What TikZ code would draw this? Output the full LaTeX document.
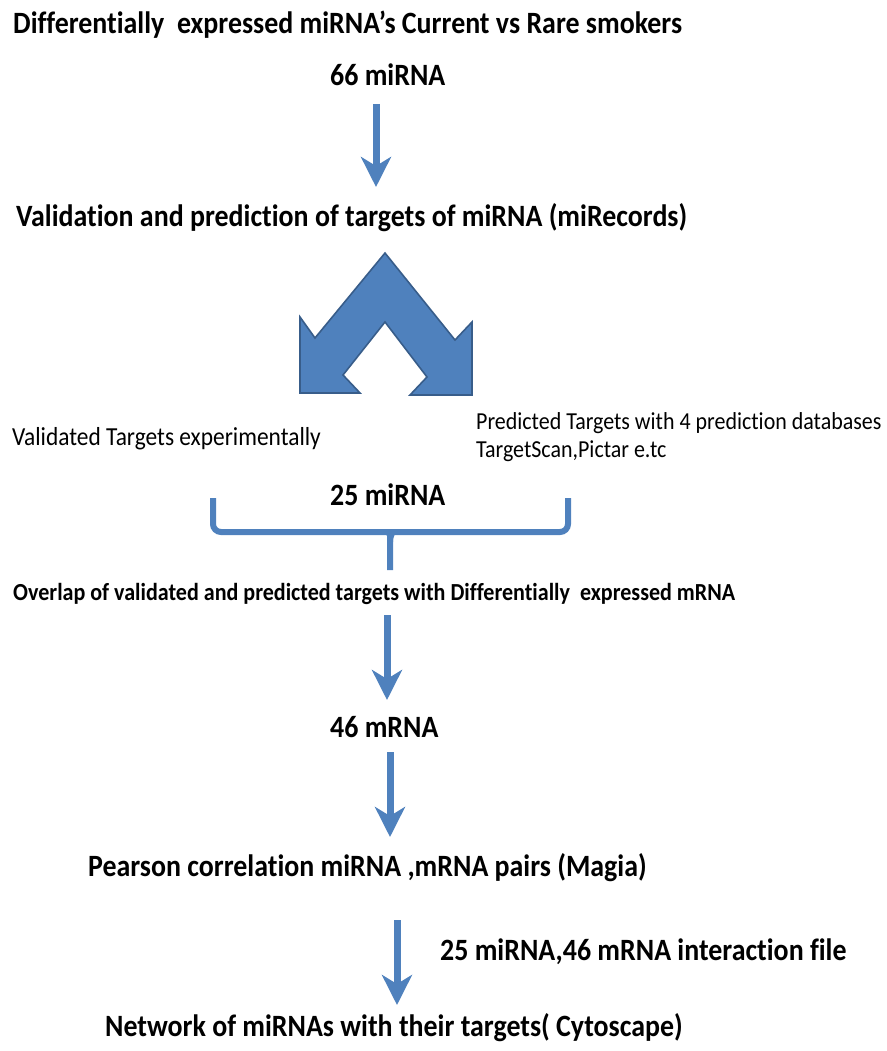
\documentclass[tikz,border=0pt]{standalone}
\usepackage{fontspec}
\setmainfont{Carlito}[FakeStretch=0.9, Ligatures={NoCommon}]
\usetikzlibrary{arrows.meta}
\definecolor{flowblue}{HTML}{4F81BD}
\definecolor{flowedge}{HTML}{385D8A}
\tikzset{
  x=1pt, y=-1pt,
  headtxt/.style={inner sep=0pt, anchor=base west, font=\bfseries\fontsize{31}{36}\selectfont},
  subtxt/.style={inner sep=0pt, anchor=base west, font=\bfseries\fontsize{24.5}{29}\selectfont},
  plaintxt/.style={inner sep=0pt, anchor=base west, font=\fontsize{24.4}{29}\selectfont},
  flowarrow/.style={draw=flowblue, line width=7pt,
    -{Stealth[length=30pt, width=30pt, inset=9pt, fill=flowblue]}},
  bracepath/.style={draw=flowblue, line width=6pt, rounded corners=8pt, line cap=butt},
}
\begin{document}
\begin{tikzpicture}
\useasboundingbox (0,0) rectangle (886,1051);

% texts
\node[headtxt] (title) at (13,34) {Differentially\ \ expressed miRNA’s Current\ vs Rare smokers};
\node[headtxt] (n66) at (330,86) {66 miRNA};
\node[headtxt] (valid) at (16,226) {Validation\ and prediction\ of targets of miRNA (miRecords)};
\node[plaintxt, font=\fontsize{26}{30}\selectfont] (exp) at (12,445) {Validated Targets experimentally};
\node[plaintxt] (pred1) at (476,429) {Predicted Targets with 4 prediction databases};
\node[plaintxt] (pred2) at (476,457) {TargetScan,Pictar e.tc};
\node[headtxt] (n25) at (330,505) {25 miRNA};
\node[subtxt] (overlap) at (13,600) {Overlap of validated and predicted targets with Differentially\ \ expressed mRNA};
\node[headtxt] (n46) at (330,737) {46 mRNA};
\node[headtxt] (pearson) at (88,876) {Pearson correlation\ miRNA ,mRNA pairs (Magia)};
\node[headtxt] (inter) at (440,960) {25 miRNA,46\ mRNA interaction\ file};
\node[headtxt] (network) at (105,1036) {Network of miRNAs with their targets( Cytoscape)};

% arrow end points
\coordinate (a1s) at (376,104);
\coordinate (a1e) at (376,187);
\coordinate (a2s) at (387,615);
\coordinate (a2e) at (387,700);
\coordinate (a3s) at (390,752);
\coordinate (a3e) at (390,837);
\coordinate (a4s) at (397,920);
\coordinate (a4e) at (397,1005);

\draw[flowarrow] (a1s) -- (a1e);
\draw[flowarrow] (a2s) -- (a2e);
\draw[flowarrow] (a3s) -- (a3e);
\draw[flowarrow] (a4s) -- (a4e);

% split chevron
\draw[fill=flowblue, draw=flowedge, line width=1.6pt, line join=miter]
  (385,253) -- (455,340) -- (472,322) -- (472,395) -- (410,395)
  -- (427,377) -- (385,322) -- (343,375) -- (360,393) -- (300,393)
  -- (300,317) -- (315,338) -- cycle;

% brace joining the two branches
\coordinate (bl) at (213,498);
\coordinate (br) at (568,498);
\coordinate (bm) at (390,570);
\draw[bracepath] (bl) -- (213,532) -- (380,532)
  .. controls (386,532) and (390,534) .. (390,542) -- (bm);
\draw[bracepath] (br) -- (568,532) -- (400,532)
  .. controls (394,532) and (390,534) .. (390,542);
\end{tikzpicture}
\end{document}
